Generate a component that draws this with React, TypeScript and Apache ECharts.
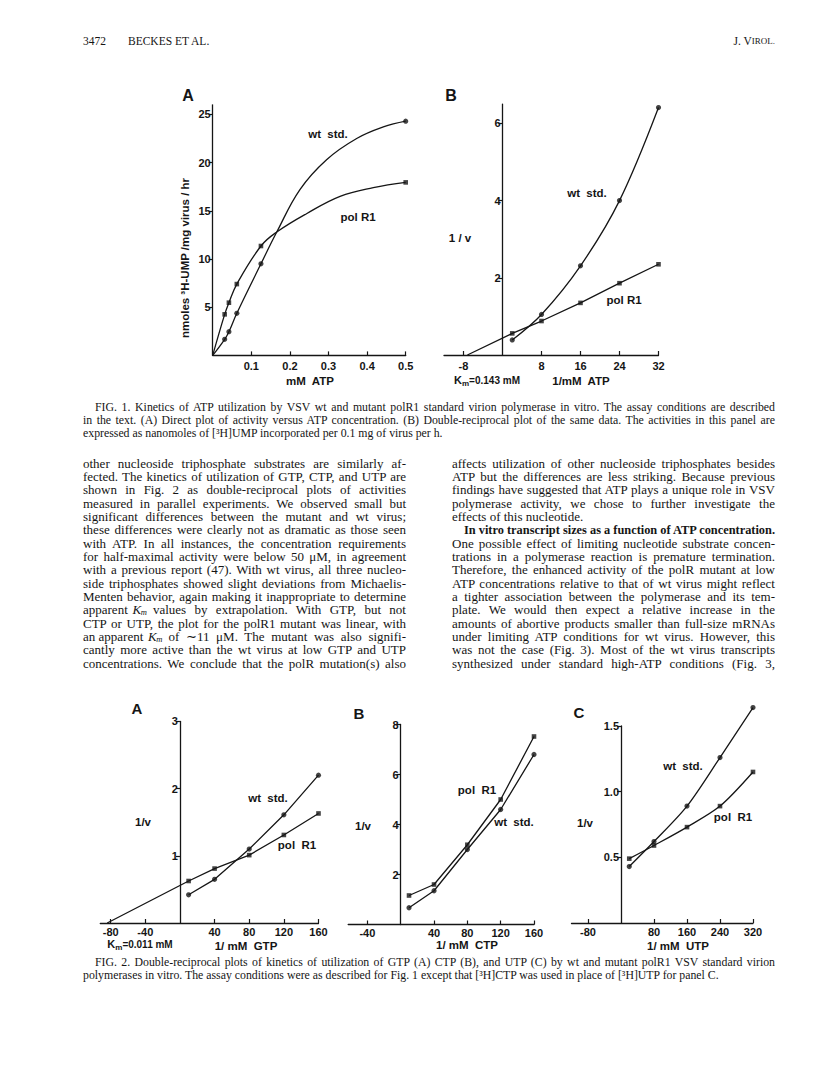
import React, { useEffect, useRef } from "react";
import * as echarts from "echarts";

// ---------------- Figure 1 data ----------------
const fig1aAtp = [0.031, 0.042, 0.0625, 0.125, 0.5];
const fig1aWt = [1.67, 2.46, 4.37, 9.5, 24.3];
const fig1aPol = [4.26, 5.47, 7.4, 11.35, 17.95];
// fitted curves
const fig1aWtCurveX = [0, 0.031, 0.042, 0.0625, 0.125, 0.166, 0.226, 0.295, 0.373, 0.442, 0.5];
const fig1aWtCurveY = [0, 1.67, 2.46, 4.37, 9.5, 12.8, 17.2, 20.3, 22.5, 23.7, 24.3];
const fig1aPolCurveX = [0, 0.031, 0.042, 0.0625, 0.125, 0.166, 0.243, 0.33, 0.416, 0.5];
const fig1aPolCurveY = [0, 4.26, 5.47, 7.4, 11.35, 12.8, 14.7, 16.5, 17.4, 17.95];
const fig1aXTicks = [0.1, 0.2, 0.3, 0.4, 0.5];
const fig1aYTicks = [5, 10, 15, 20, 25];

const fig1bInvAtp = [2, 8, 16, 24, 32];
const fig1bWt = [0.39, 1.05, 2.31, 4.0, 6.41];
const fig1bPol = [0.56, 0.88, 1.35, 1.86, 2.35];
const fig1bPolIntercept = -7.2;
const fig1bXTicks = [-8, 8, 16, 24, 32];
const fig1bYTicks = [2, 4, 6];

// ---------------- Figure 2 data ----------------
const fig2aInvGtp = [10, 40, 80, 120, 160];
const fig2aWt = [0.42, 0.65, 1.1, 1.61, 2.2];
const fig2aPol = [0.625, 0.81, 1.01, 1.31, 1.63];
const fig2aPolIntercept = -84;
const fig2aXTicks = [-80, -40, 40, 80, 120, 160];
const fig2aYTicks = [1, 2, 3];

const fig2bInvCtp = [10, 40, 80, 120, 160];
const fig2bWt = [0.67, 1.35, 3.0, 4.6, 6.8];
const fig2bPol = [1.16, 1.6, 3.19, 5.0, 7.52];
const fig2bXTicks = [-40, 40, 80, 120, 160];
const fig2bYTicks = [2, 4, 6, 8];

const fig2cInvUtp = [20, 80, 160, 240, 320];
const fig2cWt = [0.43, 0.62, 0.89, 1.26, 1.64];
const fig2cPol = [0.49, 0.59, 0.73, 0.89, 1.15];
const fig2cXTicks = [-80, 80, 160, 240, 320];
const fig2cYTicks = [0.5, 1.0, 1.5];

// ---------------- Page text ----------------
const headerPage = "3472";
const headerAuthors = "BECKES ET AL.";
const headerJournal = "J. V{sc|IROL.}";

const fig1Caption = [
  "FIG. 1. Kinetics of ATP utilization by VSV wt and mutant polR1 standard virion polymerase in vitro. The assay conditions are described",
  "in the text. (A) Direct plot of activity versus ATP concentration. (B) Double-reciprocal plot of the same data. The activities in this panel are",
  "expressed as nanomoles of [³H]UMP incorporated per 0.1 mg of virus per h.",
];
const fig2Caption = [
  "FIG. 2. Double-reciprocal plots of kinetics of utilization of GTP (A) CTP (B), and UTP (C) by wt and mutant polR1 VSV standard virion",
  "polymerases in vitro. The assay conditions were as described for Fig. 1 except that [³H]CTP was used in place of [³H]UTP for panel C.",
];

// "{Km}" marks an italic K with subscript m
const leftColumn = [
  "other nucleoside triphosphate substrates are similarly af-",
  "fected. The kinetics of utilization of GTP, CTP, and UTP are",
  "shown in Fig. 2 as double-reciprocal plots of activities",
  "measured in parallel experiments. We observed small but",
  "significant differences between the mutant and wt virus;",
  "these differences were clearly not as dramatic as those seen",
  "with ATP. In all instances, the concentration requirements",
  "for half-maximal activity were below 50 μM, in agreement",
  "with a previous report (47). With wt virus, all three nucleo-",
  "side triphosphates showed slight deviations from Michaelis-",
  "Menten behavior, again making it inappropriate to determine",
  "apparent {Km} values by extrapolation. With GTP, but not",
  "CTP or UTP, the plot for the polR1 mutant was linear, with",
  "an apparent {Km} of ∼11 μM. The mutant was also signifi-",
  "cantly more active than the wt virus at low GTP and UTP",
  "concentrations. We conclude that the polR mutation(s) also",
];
const rightColumn = [
  "affects utilization of other nucleoside triphosphates besides",
  "ATP but the differences are less striking. Because previous",
  "findings have suggested that ATP plays a unique role in VSV",
  "polymerase activity, we chose to further investigate the",
  "effects of this nucleotide.",
  "In vitro transcript sizes as a function of ATP concentration.",
  "One possible effect of limiting nucleotide substrate concen-",
  "trations in a polymerase reaction is premature termination.",
  "Therefore, the enhanced activity of the polR mutant at low",
  "ATP concentrations relative to that of wt virus might reflect",
  "a tighter association between the polymerase and its tem-",
  "plate. We would then expect a relative increase in the",
  "amounts of abortive products smaller than full-size mRNAs",
  "under limiting ATP conditions for wt virus. However, this",
  "was not the case (Fig. 3). Most of the wt virus transcripts",
  "synthesized under standard high-ATP conditions (Fig. 3,",
];

// ---------------- Layout / style ----------------
const INK = "#151515";
const SANS = '"Liberation Sans", Arial, Helvetica, sans-serif';
const SERIF = '"Liberation Serif", "Times New Roman", serif';
const PAGE_L = 83;
const PAGE_R = 775;
const COL_L_END = 406;
const COL_R_START = 452;
const BODY_TOP = 463.3;
const BODY_LH = 13.33;
const BODY_FS = 13;
const CAP_FS = 11.8;
const HEAD_Y = 41;

type Panel = {
  grid: { left: number; top: number; width: number; height: number };
  xMin: number; xMax: number; yMin: number; yMax: number;
  xTicks: number[]; yTicks: number[];
  xMargin: number; fmtY?: (v: number) => string;
};

const panels: Panel[] = [
  { grid: { left: 212.7, top: 104.8, width: 193, height: 250.6 }, xMin: 0, xMax: 0.5, yMin: 0, yMax: 26, xTicks: fig1aXTicks, yTicks: fig1aYTicks, xMargin: 5 },
  { grid: { left: 444, top: 104.1, width: 214.5, height: 250.9 }, xMin: -12, xMax: 32, yMin: 0, yMax: 6.5, xTicks: fig1bXTicks, yTicks: fig1bYTicks, xMargin: 5 },
  { grid: { left: 100.3, top: 721.4, width: 218.2, height: 201.6 }, xMin: -92, xMax: 160, yMin: 0, yMax: 3, xTicks: fig2aXTicks, yTicks: fig2aYTicks, xMargin: 3 },
  { grid: { left: 348.2, top: 724.5, width: 185.8, height: 200 }, xMin: -63, xMax: 160, yMin: 0, yMax: 8, xTicks: fig2bXTicks, yTicks: fig2bYTicks, xMargin: 3 },
  { grid: { left: 571.5, top: 726, width: 181.5, height: 197 }, xMin: -120, xMax: 320, yMin: 0, yMax: 1.5, xTicks: fig2cXTicks, yTicks: fig2cYTicks, xMargin: 3, fmtY: (v) => v.toFixed(1) },
];

const pts = (xs: number[], ys: number[]) => xs.map((x, i) => [x, ys[i]]);

function lineSeries(i: number, data: number[][], smooth: number | false) {
  return {
    type: "line", xAxisIndex: i, yAxisIndex: i, data, symbol: "none", showSymbol: false,
    smooth, clip: false, silent: true, z: 2,
    lineStyle: { color: INK, width: 1.3 },
  };
}
function dotSeries(i: number, data: number[][], symbol: string) {
  return {
    type: "scatter", xAxisIndex: i, yAxisIndex: i, data, symbol,
    symbolSize: symbol === "rect" ? 4.6 : 5.2, clip: false, silent: true, z: 3,
    itemStyle: { color: INK },
  };
}

function txt(text: string, x: number, y: number, o: any = {}) {
  const align = o.align || "center";
  return {
    type: "text", x, y, silent: true, rotation: o.rotation || 0, z: 10,
    style: {
      text, fill: INK,
      fontFamily: o.family || SANS, fontSize: o.size || 11.5,
      fontWeight: o.weight || "bold", fontStyle: o.style || "normal",
      align, textAlign: align,
      verticalAlign: "middle", textVerticalAlign: "middle",
      rich: o.rich,
    },
  };
}

const kmRich = {
  k: { fontFamily: SANS, fontSize: 11, fontWeight: "bold", fill: INK },
  s: { fontFamily: SANS, fontSize: 8, fontWeight: "bold", fill: INK, padding: [6, 0, 0, 0] },
  t: { fontFamily: SANS, fontSize: 10, fontWeight: "bold", fill: INK },
};

// text measuring (fonts are local, so canvas metrics match the SVG text)
let measureCtx: CanvasRenderingContext2D | null = null;
function measure(text: string, font: string) {
  if (!measureCtx) measureCtx = document.createElement("canvas").getContext("2d");
  if (!measureCtx) return text.length * 6;
  measureCtx.font = font;
  return measureCtx.measureText(text).width;
}

function buildOption(justifyMap: Map<string, number>) {
  const xAxis = panels.map((p, i) => ({
    type: "value", gridIndex: i, min: p.xMin, max: p.xMax,
    axisLine: { show: true, onZero: false, lineStyle: { color: INK, width: 1.3 } },
    axisTick: { show: true, inside: true, length: 4, customValues: p.xTicks, lineStyle: { color: INK, width: 1.2 } },
    axisLabel: { show: true, customValues: p.xTicks, margin: p.xMargin, color: INK, fontFamily: SANS, fontWeight: "bold", fontSize: 11, formatter: (v: number) => String(v) },
    splitLine: { show: false },
  }));
  const yAxis = panels.map((p, i) => ({
    type: "value", gridIndex: i, min: p.yMin, max: p.yMax, position: "left",
    offset: -((0 - p.xMin) / (p.xMax - p.xMin)) * p.grid.width,
    axisLine: { show: true, onZero: false, lineStyle: { color: INK, width: 1.3 } },
    axisTick: { show: true, inside: false, length: 4, customValues: p.yTicks, lineStyle: { color: INK, width: 1.2 } },
    axisLabel: { show: true, customValues: p.yTicks, margin: 2, color: INK, fontFamily: SANS, fontWeight: "bold", fontSize: 11, formatter: p.fmtY || ((v: number) => String(v)) },
    splitLine: { show: false },
  }));
  const grid = panels.map((p) => ({ ...p.grid, containLabel: false, outerBoundsMode: "none", show: false }));

  const series = [
    lineSeries(0, pts(fig1aWtCurveX, fig1aWtCurveY), 0.4),
    lineSeries(0, pts(fig1aPolCurveX, fig1aPolCurveY), 0.4),
    dotSeries(0, pts(fig1aAtp, fig1aWt), "circle"),
    dotSeries(0, pts(fig1aAtp, fig1aPol), "rect"),

    lineSeries(1, pts(fig1bInvAtp, fig1bWt), 0.35),
    lineSeries(1, [[fig1bPolIntercept, 0], ...pts(fig1bInvAtp, fig1bPol)], false),
    dotSeries(1, pts(fig1bInvAtp, fig1bWt), "circle"),
    dotSeries(1, pts(fig1bInvAtp, fig1bPol), "rect"),

    lineSeries(2, pts(fig2aInvGtp, fig2aWt), false),
    lineSeries(2, [[fig2aPolIntercept, 0], ...pts(fig2aInvGtp, fig2aPol)], false),
    dotSeries(2, pts(fig2aInvGtp, fig2aWt), "circle"),
    dotSeries(2, pts(fig2aInvGtp, fig2aPol), "rect"),

    lineSeries(3, pts(fig2bInvCtp, fig2bWt), false),
    lineSeries(3, pts(fig2bInvCtp, fig2bPol), false),
    dotSeries(3, pts(fig2bInvCtp, fig2bWt), "circle"),
    dotSeries(3, pts(fig2bInvCtp, fig2bPol), "rect"),

    lineSeries(4, pts(fig2cInvUtp, fig2cWt), 0.3),
    lineSeries(4, pts(fig2cInvUtp, fig2cPol), 0.3),
    dotSeries(4, pts(fig2cInvUtp, fig2cWt), "circle"),
    dotSeries(4, pts(fig2cInvUtp, fig2cPol), "rect"),
  ];

  const serif = (text: string, x: number, y: number, o: any = {}) =>
    txt(text, x, y, { family: SERIF, weight: o.weight || "normal", style: o.style, size: o.size || BODY_FS, align: o.align || "left", rich: o.rich });

  const elements: any[] = [
    // header
    serif(headerPage, PAGE_L, HEAD_Y, { size: 11.5 }),
    serif(headerAuthors, 128, HEAD_Y, { size: 11.5 }),
    serif(headerJournal, PAGE_R, HEAD_Y, { size: 11.5, align: "right", rich: { sc: { fontFamily: SERIF, fontSize: 9, fill: INK } } }),
    // figure 1 labels
    txt("A", 188, 95, { size: 16 }),
    txt("B", 451, 95, { size: 16 }),
    txt("wt  std.", 328, 134),
    txt("pol R1", 358, 217),
    txt("nmoles ³H-UMP /mg virus / hr", 185, 258, { rotation: Math.PI / 2, size: 11.5 }),
    txt("mM  ATP", 310, 381, { size: 11.5 }),
    txt("1 / v", 460, 238),
    txt("wt  std.", 587, 193),
    txt("pol R1", 624, 300),
    txt("{k|K}{s|m}{t|=0.143 mM}", 487, 380, { rich: kmRich }),
    txt("1/mM  ATP", 581, 381, { size: 11.5 }),
    // figure 2 labels
    txt("A", 137, 708, { size: 15 }),
    txt("B", 359, 713, { size: 15 }),
    txt("C", 579, 712, { size: 15 }),
    txt("wt  std.", 268, 798),
    txt("pol  R1", 297, 845),
    txt("1/v", 143, 822),
    txt("{k|K}{s|m}{t|=0.011 mM}", 140, 944, { rich: kmRich }),
    txt("1/ mM  GTP", 246, 946),
    txt("pol  R1", 477, 790),
    txt("wt  std.", 514, 822),
    txt("1/v", 363, 826),
    txt("1/ mM  CTP", 467, 945),
    txt("wt  std.", 683, 766),
    txt("pol  R1", 733, 817),
    txt("1/v", 585, 823),
    txt("1/ mM  UTP", 678, 946),
  ];

  fig1Caption.forEach((line, i) => {
    const x = i === 0 ? PAGE_L + 12 : PAGE_L;
    elements.push(serif(line, x, 407 + i * 13.2, { size: CAP_FS }));
    if (i < 2) justifyMap.set(line, PAGE_R - x);
  });
  fig2Caption.forEach((line, i) => {
    const x = i === 0 ? PAGE_L + 12 : PAGE_L;
    elements.push(serif(line, x, 962 + i * 13.2, { size: CAP_FS }));
    if (i === 0) justifyMap.set(line, PAGE_R - x);
  });

  const bodyLine = (line: string, x: number, y: number, end: number, justify: boolean, bold = false) => {
    if (line.includes("{Km}")) {
      const [preRaw, postRaw] = line.split("{Km}");
      const pre = preRaw.trimEnd();
      const post = postRaw.trimStart();
      const fRegular = `${BODY_FS}px "Liberation Serif"`;
      const fItal = `italic ${BODY_FS}px "Liberation Serif"`;
      const fSub = `italic 9px "Liberation Serif"`;
      const space = measure(" ", fRegular) + 1.5;
      const kx = x + measure(pre, fRegular) + space;
      const wK = measure("K", fItal);
      const wm = measure("m", fSub);
      const px = kx + wK + wm + 0.5 + space;
      elements.push(serif(pre, x, y));
      elements.push(serif("K", kx, y, { style: "italic" }));
      elements.push(serif("m", kx + wK - 0.5, y + 2.2, { style: "italic", size: 8.5 }));
      elements.push(serif(post, px, y));
      if (justify) justifyMap.set(post, end - px);
      return;
    }
    elements.push(serif(line, x, y, { weight: bold ? "bold" : "normal" }));
    if (justify) justifyMap.set(line, end - x);
  };

  leftColumn.forEach((line, i) => bodyLine(line, PAGE_L, BODY_TOP + i * BODY_LH, COL_L_END, true));
  rightColumn.forEach((line, i) => {
    const heading = i === 5;
    const x = heading ? COL_R_START + 12 : COL_R_START;
    bodyLine(line, x, BODY_TOP + i * BODY_LH, PAGE_R, i !== 4, heading);
  });

  return {
    animation: false,
    backgroundColor: "#ffffff",
    grid, xAxis, yAxis, series,
    graphic: { elements },
  };
}

// justify printed lines by widening word spaces to the measured column width
function justify(root: HTMLElement, m: Map<string, number>) {
  root.querySelectorAll("text").forEach((node) => {
    const t = node as SVGTextElement;
    const content = t.textContent || "";
    const w = m.get(content);
    if (!w) return;
    t.style.wordSpacing = "";
    t.removeAttribute("textLength");
    const natural = t.getComputedTextLength();
    const spaces = (content.match(/ /g) || []).length;
    if (spaces > 0 && natural < w) {
      t.style.wordSpacing = `${(w - natural) / spaces}px`;
      const after = t.getComputedTextLength();
      if (Math.abs(after - w) > 2) {
        t.style.wordSpacing = "";
        t.setAttribute("textLength", String(w));
        t.setAttribute("lengthAdjust", "spacing");
      }
    } else if (natural > w) {
      t.setAttribute("textLength", String(w));
      t.setAttribute("lengthAdjust", "spacingAndGlyphs");
    }
  });
}

export default function App() {
  const ref = useRef<HTMLDivElement>(null);
  useEffect(() => {
    const el = ref.current!;
    const chart = echarts.init(el, null, { renderer: "svg" });
    const jm = new Map<string, number>();
    chart.setOption(buildOption(jm) as any);
    justify(el, jm);
    const raf = requestAnimationFrame(() => justify(el, jm));
    return () => {
      cancelAnimationFrame(raf);
      chart.dispose();
    };
  }, []);
  return (
    <div
      ref={ref}
      style={{ position: "absolute", left: 0, top: 0, width: 816, height: 1074, background: "#fff" }}
    />
  );
}
